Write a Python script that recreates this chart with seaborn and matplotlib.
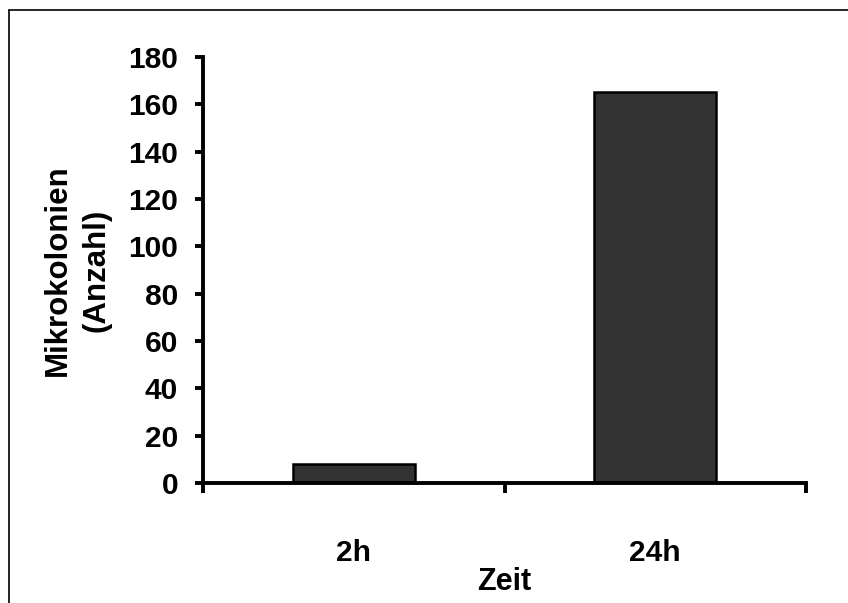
import matplotlib
matplotlib.use("Agg")
import matplotlib.pyplot as plt
from matplotlib.lines import Line2D
import seaborn as sns
import pandas as pd

# data
zeit = ["2h", "24h"]
anzahl = [8, 165]
y_ticks = list(range(0, 181, 20))

df = pd.DataFrame({"Zeit": zeit, "Anzahl": anzahl})

sns.set_theme(style="white")
plt.rcParams["font.family"] = ["Liberation Sans", "DejaVu Sans"]
plt.rcParams["font.weight"] = "bold"
plt.rcParams["text.color"] = "black"
plt.rcParams["axes.labelcolor"] = "black"
plt.rcParams["xtick.color"] = "black"
plt.rcParams["ytick.color"] = "black"

fig = plt.figure(figsize=(8.48, 6.03), dpi=100)
ax = fig.add_axes([0.2394, 0.199, 0.7111, 0.7065])

sns.barplot(data=df, x="Zeit", y="Anzahl", color="#333333", saturation=1,
            width=0.405, edgecolor="black", linewidth=1.8, ax=ax)

ax.set_xlim(-0.5, 1.5)
ax.set_ylim(0, 180)
ax.set_yticks(y_ticks)
ax.set_yticklabels([str(v) for v in y_ticks], fontsize=21.5, fontweight="bold")

# category labels without marks, boundary marks pointing down
ax.tick_params(axis="x", which="major", length=0, pad=40, labelsize=21.5,
               labelcolor="black")
ax.set_xticks([-0.5, 0.5, 1.5], minor=True)
ax.tick_params(axis="x", which="minor", direction="out", length=7, width=2.8,
               bottom=True, color="black")
ax.tick_params(axis="y", direction="out", length=6, width=2.8, pad=12,
               left=True, color="black", labelcolor="black")
for lbl in ax.get_xticklabels():
    lbl.set_fontweight("bold")

for side in ["top", "right"]:
    ax.spines[side].set_visible(False)
for side in ["left", "bottom"]:
    ax.spines[side].set_color("black")
    ax.spines[side].set_linewidth(2.8)

ax.set_xlabel("Zeit", fontsize=22, fontweight="bold", va="center", color="black")
ax.xaxis.set_label_coords(0.5, -0.232)
ax.set_ylabel("Mikrokolonien\n(Anzahl)", fontsize=22.5, fontweight="bold",
              va="center", ha="center", linespacing=1.35, color="black")
ax.yaxis.set_label_coords(-0.209, 0.5)

# frame lines along the top and left edge of the picture
fig.add_artist(Line2D([0.0106, 1.0], [0.9842, 0.9842], color="black", lw=1.2,
                      transform=fig.transFigure))
fig.add_artist(Line2D([0.0112, 0.0112], [0.0, 0.9842], color="black", lw=1.2,
                      transform=fig.transFigure))

plt.savefig("out.png", dpi=100, facecolor="white")
